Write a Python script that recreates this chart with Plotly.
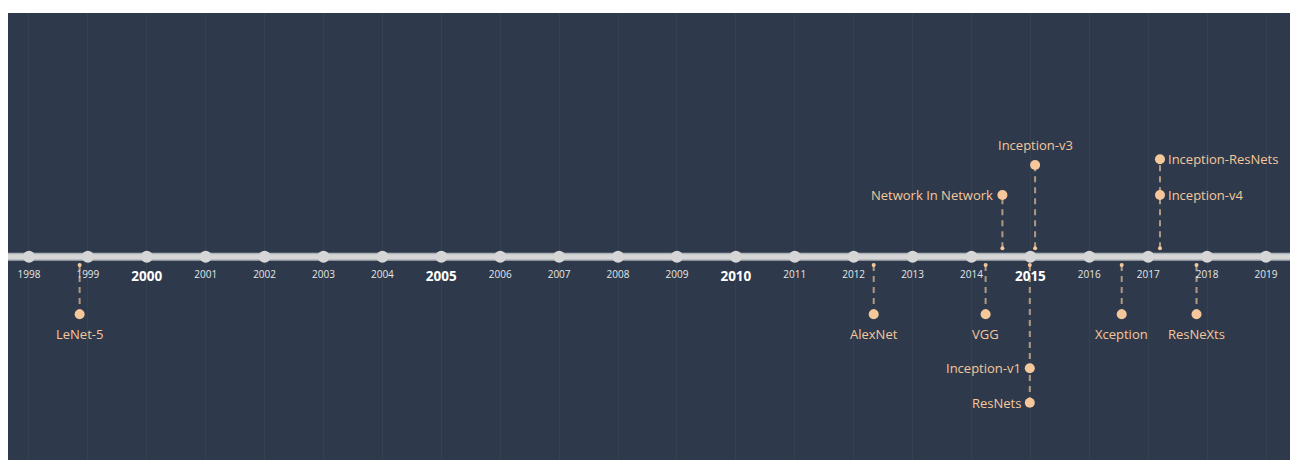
import plotly.graph_objects as go

# ---------------- data ----------------
years = list(range(1998, 2020))
major_years = [2000, 2005, 2010, 2015]

event_names = ["LeNet-5", "AlexNet", "VGG", "Network In Network", "Inception-v3",
               "Inception-v1", "ResNets", "Xception", "Inception-v4",
               "Inception-ResNets", "ResNeXts"]
event_dates = [1998.86, 2012.34, 2014.24, 2014.525, 2015.08,
               2014.99, 2014.99, 2016.55, 2017.2, 2017.2, 2017.82]
event_heights = [-57.6, -57.6, -57.6, 61.7, 91.7,
                 -111.6, -146.0, -57.6, 61.7, 97.4, -57.6]
label_side = ["below", "below", "below", "left", "above",
              "left", "left", "below", "right", "right", "below"]

# ---------------- styles ----------------
BG = "#2e3a4b"
PEACH = "#f6c79b"
AXIS = "#d6d6d6"
FONT = "Open Sans, sans-serif"
STUB = 8.4
SIDE_STYLE = {
    "below": dict(xanchor="center", yanchor="top", xshift=0, yshift=-9),
    "above": dict(xanchor="center", yanchor="bottom", xshift=0, yshift=9),
    "left": dict(xanchor="right", yanchor="middle", xshift=-7, yshift=0),
    "right": dict(xanchor="left", yanchor="middle", xshift=6, yshift=0),
}

fig = go.Figure()

# connectors (one per distinct date, reaching the furthest event)
conn = {}
for d, h in zip(event_dates, event_heights):
    if d not in conn or abs(h) > abs(conn[d]):
        conn[d] = h
cx, cy, sx, sy = [], [], [], []
for d, h in conn.items():
    s = STUB if h > 0 else -STUB
    cx += [d, d, None]
    cy += [s, h, None]
    sx.append(d)
    sy.append(s)
fig.add_trace(go.Scatter(x=cx, y=cy, mode="lines",
                         line=dict(color="rgba(220,185,150,0.75)", width=2, dash="6px,5px"),
                         hoverinfo="skip", showlegend=False))
fig.add_trace(go.Scatter(x=sx, y=sy, mode="markers",
                         marker=dict(color=PEACH, size=4),
                         hoverinfo="skip", showlegend=False))

# main axis line
fig.add_shape(type="line", xref="paper", yref="y", x0=0, x1=1, y0=0, y1=0,
              line=dict(color="#aeb3ba", width=8), layer="below")
fig.add_shape(type="line", xref="paper", yref="y", x0=0, x1=1, y0=0, y1=0,
              line=dict(color=AXIS, width=5), layer="below")

# year dots
fig.add_trace(go.Scatter(x=years, y=[0] * len(years), mode="markers",
                         marker=dict(color=AXIS, size=12),
                         hoverinfo="x", showlegend=False))

# year labels
minor = [y for y in years if y not in major_years]
fig.add_trace(go.Scatter(x=minor, y=[-18.3] * len(minor), mode="text",
                         text=[str(y) for y in minor],
                         textfont=dict(color="#e6e6e6", size=10, family=FONT),
                         hoverinfo="skip", showlegend=False))
fig.add_trace(go.Scatter(x=major_years, y=[-21.0] * len(major_years), mode="text",
                         text=["<b>%d</b>" % y for y in major_years],
                         textfont=dict(color="#ffffff", size=13.5, family=FONT),
                         hoverinfo="skip", showlegend=False))

# events
fig.add_trace(go.Scatter(x=event_dates, y=event_heights, mode="markers",
                         marker=dict(color=PEACH, size=10),
                         hovertext=event_names, hoverinfo="text",
                         showlegend=False))
for name, d, h, side in zip(event_names, event_dates, event_heights, label_side):
    fig.add_annotation(x=d, y=h, text=name, showarrow=False,
                       font=dict(color=PEACH, size=13, family=FONT),
                       **SIDE_STYLE[side])

fig.update_layout(
    width=1285, height=452,
    margin=dict(l=0, r=0, t=5, b=0),
    paper_bgcolor="white", plot_bgcolor=BG,
    xaxis=dict(range=[1997.644, 2019.458], showgrid=True, dtick=1, tick0=1998,
               gridcolor="#36414f", gridwidth=1, zeroline=False,
               showticklabels=False, showline=False, fixedrange=True),
    yaxis=dict(range=[-203.3, 243.7], showgrid=False, zeroline=False,
               showticklabels=False, fixedrange=True),
)

fig.write_html("out.html")
